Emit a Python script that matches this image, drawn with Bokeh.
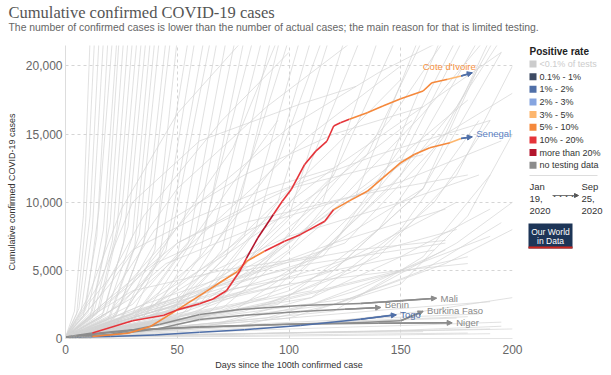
from bokeh.plotting import figure
from bokeh.layouts import column, row
from bokeh.models import Range1d, Label, Arrow, NormalHead, FixedTicker, NumeralTickFormatter, BoxAnnotation, ColumnDataSource
from bokeh.embed import file_html
from bokeh.resources import INLINE

# ---------------- data ----------------
band_labels = ["<0.1% of tests", "0.1% - 1%", "1% - 2%", "2% - 3%", "3% - 5%",
               "5% - 10%", "10% - 20%", "more than 20%", "no testing data"]
band_colors = ["#cccccc", "#3d4a63", "#4f6fa8", "#86a5e0", "#fdb66d",
               "#f5883b", "#e5343a", "#b3152c", "#8c8c8c"]
band_color = dict(zip(band_labels, band_colors))

x_ticks = [0, 50, 100, 150, 200]
y_ticks = [0, 5000, 10000, 15000, 20000]

# background (all other countries)
bg_days = [
    [0, 4, 8, 11], [0, 5, 9, 13], [0, 6, 11, 15], [0, 7, 12, 17], [0, 8, 14, 19],
    [0, 9, 15, 21], [0, 10, 17, 23], [0, 11, 18, 24], [0, 12, 20, 26], [0, 12, 21, 28],
    [0, 14, 23, 30], [0, 15, 25, 32], [0, 16, 26, 34], [0, 17, 28, 36], [0, 18, 30, 38],
    [0, 19, 31, 40], [0, 20, 33, 42], [0, 22, 35, 45], [0, 23, 37, 47], [0, 25, 40, 50],
    [0, 20, 40, 55], [0, 25, 42, 58], [0, 22, 45, 62], [0, 30, 48, 65], [0, 28, 50, 68],
    [0, 30, 55, 72], [0, 35, 58, 76], [0, 32, 60, 80], [0, 40, 62, 84], [0, 38, 65, 88],
    [0, 45, 70, 92], [0, 40, 72, 96], [0, 50, 75, 100], [0, 45, 80, 105], [0, 55, 85, 110],
    [0, 60, 95, 118], [0, 50, 100, 125], [0, 70, 105, 132], [0, 65, 115, 140], [0, 80, 120, 148],
    [0, 70, 130, 158], [0, 90, 140, 168], [0, 100, 150, 185], [0, 110, 160, 195],
    [0, 15, 30, 60, 105, 130], [0, 20, 40, 80, 120, 160], [0, 25, 50, 90, 140, 190],
    [0, 20, 45, 90, 150, 195], [0, 30, 60, 100, 150, 185], [0, 35, 70, 120, 170],
    [0, 40, 80, 130, 175], [0, 30, 70, 120, 165], [0, 40, 90, 140, 180], [0, 50, 100, 150, 190],
    [0, 30, 60, 95], [0, 40, 80, 120], [0, 50, 90, 130, 160], [0, 60, 100, 140, 175],
    [0, 70, 110, 150, 190], [0, 80, 120, 160, 195], [0, 60, 110, 150], [0, 90, 130, 170],
    [0, 50, 100, 150, 190], [0, 40, 90, 140, 185], [0, 30, 80, 130, 180], [0, 60, 120, 175],
    [0, 50, 100, 160, 195], [0, 70, 130, 190], [0, 80, 150, 195], [0, 100, 160, 200],
    [0, 40, 100, 150, 180], [0, 35, 80, 130, 170], [0, 120, 170, 200], [0, 130, 175, 200],
    [0, 100, 150, 180, 200], [0, 120, 160, 190], [0, 90, 140, 175, 200], [0, 110, 150, 185],
    [0, 80, 130, 165, 190], [0, 60, 120, 160, 185],
    [0, 60, 120, 180], [0, 50, 110, 170, 200], [0, 80, 140, 190], [0, 40, 100, 160],
    [0, 30, 70, 110, 150], [0, 25, 60, 100, 140, 170], [0, 20, 50, 90, 130],
    [0, 40, 80, 120, 160, 195], [0, 45, 90, 130, 170, 200], [0, 60, 100, 140, 180],
    [0, 35, 75, 115, 155], [0, 50, 85, 120, 150], [0, 15, 35, 70, 100], [0, 10, 25, 50, 80],
    [0, 20, 45, 75, 95], [0, 30, 65, 95, 115], [0, 55, 100, 135, 160], [0, 75, 120, 150, 175],
    [0, 95, 140, 170, 190], [0, 65, 110, 145, 170], [0, 10, 30, 60, 90, 120],
    [0, 15, 40, 80, 130, 180], [0, 20, 50, 100, 160], [0, 10, 30, 70, 110], [0, 20, 60, 110, 170],
    [0, 105, 145, 175, 195], [0, 115, 150, 178], [0, 85, 125, 160, 188], [0, 125, 165, 192],
]
bg_cases = [
    [100, 2000, 9000, 22000], [100, 1800, 8500, 22000], [100, 2200, 9000, 22000], [100, 2000, 8000, 22000], [100, 1700, 7500, 22000],
    [100, 2100, 9500, 22000], [100, 1900, 8000, 22000], [100, 1600, 7000, 22000], [100, 2000, 8500, 22000], [100, 1500, 7200, 22000],
    [100, 1800, 8000, 22000], [100, 2000, 9000, 22000], [100, 1500, 7000, 22000], [100, 1900, 8200, 22000], [100, 1700, 7500, 22000],
    [100, 1400, 6800, 22000], [100, 1600, 7600, 22000], [100, 1500, 7000, 22000], [100, 1800, 8000, 22000], [100, 1400, 6500, 22000],
    [100, 1200, 7000, 22000], [100, 1500, 6000, 22000], [100, 900, 6500, 22000], [100, 1800, 8000, 22000], [100, 1000, 6000, 22000],
    [100, 1300, 7000, 22000], [100, 1600, 7500, 22000], [100, 1100, 6000, 22000], [100, 2000, 8000, 22000], [100, 1200, 7000, 22000],
    [100, 1500, 6500, 22000], [100, 1000, 6000, 22000], [100, 2500, 9000, 22000], [100, 1300, 7500, 22000], [100, 2000, 8000, 22000],
    [100, 2500, 10000, 22000], [100, 1500, 9000, 22000], [100, 3000, 11000, 22000], [100, 2000, 10000, 22000], [100, 3500, 12000, 22000],
    [100, 2200, 10500, 22000], [100, 3000, 11000, 22000], [100, 4000, 12000, 22000], [100, 3500, 11000, 21000],
    [100, 4000, 10000, 14500, 17200, 18500], [100, 3000, 8000, 12000, 15000, 17000], [100, 2500, 7000, 10500, 13500, 16000],
    [100, 2000, 5500, 8500, 11500, 14500], [100, 1500, 4500, 7500, 10000, 12000], [100, 1500, 4000, 7000, 9500],
    [100, 1200, 3500, 6000, 8000], [100, 1500, 3500, 5000, 6500], [100, 1000, 2500, 4500, 6000], [100, 1200, 3000, 5000, 7500],
    [100, 2500, 8000, 16000], [100, 2000, 5500, 12000], [100, 1500, 4000, 8000, 11000], [100, 1500, 3500, 7000, 10000],
    [100, 1200, 3000, 6000, 9500], [100, 1000, 2500, 5000, 8500], [100, 800, 2500, 5000], [100, 1500, 3500, 6500],
    [100, 800, 1500, 2200, 2700], [100, 600, 1100, 1500, 1800], [100, 500, 900, 1300, 1600], [100, 700, 1200, 1500],
    [100, 400, 700, 1000, 1200], [100, 300, 500, 700], [100, 350, 600, 900], [100, 900, 2000, 3000],
    [100, 2000, 4000, 5000, 5500], [100, 2500, 5000, 6500, 7200], [100, 2500, 5500, 8000], [100, 3000, 7000, 10000],
    [100, 1500, 4000, 9000, 15000], [100, 2000, 6000, 12000], [100, 2500, 6000, 12000, 20000], [100, 3000, 8000, 16000],
    [100, 2000, 5000, 10000, 16000], [100, 1500, 5000, 11000, 20000],
    [100, 200, 300, 400], [100, 250, 450, 600, 700], [100, 150, 250, 350], [100, 300, 400, 500],
    [100, 3000, 9000, 15000, 20000], [100, 3500, 10000, 15500, 19500, 22000], [100, 4000, 11000, 17000, 22000],
    [100, 2500, 7500, 12500, 17000, 21000], [100, 2000, 6000, 10500, 15000, 18000], [100, 2500, 7000, 12000, 17500],
    [100, 2500, 6500, 11000, 16000], [100, 3000, 8500, 14000, 19000], [100, 3000, 9000, 16000, 21000], [100, 3000, 9500, 16500, 22000],
    [100, 2000, 7000, 14000, 22000], [100, 1800, 6500, 13000, 22000], [100, 1500, 6500, 13500, 22000], [100, 2000, 7000, 14000, 22000],
    [100, 2500, 8000, 15000, 22000], [100, 3500, 9500, 16000, 22000], [100, 2500, 6500, 9000, 11000, 12500],
    [100, 2000, 5500, 8500, 10500, 12000], [100, 3000, 7000, 11000, 13500], [100, 1500, 3500, 5000, 6000], [100, 1500, 3500, 5500, 7000],
    [100, 5000, 11000, 17000, 22000], [100, 6000, 13000, 22000], [100, 5000, 10500, 16500, 22000], [100, 7000, 14000, 22000],
]

# highlighted countries: days since 100th case, cumulative cases, positive-rate band at each point
countries = ["Cote d'Ivoire", "Senegal", "Mali", "Benin", "Togo", "Burkina Faso", "Niger"]

civ_days = [0, 12, 30, 44, 50, 60, 66, 72, 78, 81, 86, 89, 93, 97, 101, 107, 112, 117, 120, 123, 127,
            135, 142, 150, 160, 164, 171, 177, 182]
civ_cases = [100, 400, 1300, 1700, 2100, 2550, 2900, 3500, 4950, 5900, 7370, 8110, 9100, 10070, 10930, 12770,
             13750, 14490, 15590, 15830, 16080, 16570, 17060, 17600, 18160, 18770, 19020, 19260, 19500]
civ_band = ["no testing data", "no testing data"] + ["10% - 20%"] * 8 + ["more than 20%"] * 3 + \
           ["10% - 20%"] * 8 + ["5% - 10%"] * 6 + ["3% - 5%", "1% - 2%"]

sen_days = [0, 12, 28, 38, 50, 63, 70, 77, 81, 89, 98, 105, 116, 120, 127, 135, 142, 150, 156, 163,
            172, 177, 182]
sen_cases = [100, 150, 390, 880, 2100, 3460, 4200, 4930, 5660, 6400, 7130, 7620, 8600, 9460, 10100,
             10800, 11790, 12900, 13500, 14000, 14360, 14680, 14800]
sen_band = ["no testing data", "no testing data"] + ["5% - 10%"] * 8 + ["10% - 20%"] * 4 + \
           ["5% - 10%"] * 7 + ["3% - 5%", "1% - 2%"]

mli_days = [0, 20, 42, 60, 78, 105, 132, 166]
mli_cases = [100, 300, 1030, 1760, 2130, 2430, 2570, 2960]
ben_days = [0, 20, 42, 60, 80, 105, 125, 141]
ben_cases = [100, 250, 740, 1400, 1700, 1990, 2150, 2280]
tgo_days = [0, 20, 40, 60, 80, 105, 132, 148]
tgo_cases = [100, 150, 250, 450, 650, 960, 1420, 1740]
bfa_days = [0, 15, 30, 60, 100, 130, 150, 160]
bfa_cases = [100, 350, 600, 850, 1050, 1150, 1300, 2000]
ner_days = [0, 15, 30, 60, 100, 140, 173]
ner_cases = [100, 400, 650, 850, 1050, 1110, 1150]

# ---------------- layout ----------------
TOP_H = 40              # height of the title strip
MAIN_W, MAIN_H = 524, 335
PANEL_W = 611 - MAIN_W
FL, FT, FW, FH = 65, 5, 447, 293
XMAX, YMAX = 200, 21500
FONT = "Liberation Sans"


def text_fig(w, h, x0, y0, top=0, bottom=0):
    # frame mapped so that data coordinates equal page pixels
    f = figure(width=w, height=h, output_backend="svg", toolbar_location=None,
               x_range=Range1d(x0, x0 + w), y_range=Range1d(y0 + h - bottom, y0 + top),
               x_axis_location=None, y_axis_location=None,
               min_border_left=0, min_border_right=0, min_border_top=top, min_border_bottom=bottom)
    f.grid.visible = False
    f.outline_line_color = None
    return f


def lab(f, px, py, text, size="9px", color="#333333", align="left", font=FONT,
        style="normal", baseline="middle"):
    f.add_layout(Label(x=px, y=py, text=text, text_font=font, text_font_size=size,
                       text_color=color, text_align=align, text_baseline=baseline,
                       text_font_style=style))


def box(f, x0, y0, x1, y1, color):
    f.add_layout(BoxAnnotation(left=x0, right=x1, top=y0, bottom=y1,
                               fill_color=color, fill_alpha=1, line_color=None))


# title strip (page coordinates)
t = text_fig(611, TOP_H, 0, 0)
lab(t, 8, 12, "Cumulative confirmed COVID-19 cases", size="16.5px", color="#555555", font="Liberation Serif")
lab(t, 8, 27, "The number of confirmed cases is lower than the number of actual cases; the main reason for that is limited testing.",
    size="10.4px", color="#666666")

# main chart
p = figure(width=MAIN_W, height=MAIN_H, output_backend="svg", toolbar_location=None,
           x_range=Range1d(0, XMAX), y_range=Range1d(0, YMAX),
           min_border_left=FL, min_border_right=MAIN_W - FL - FW,
           min_border_top=FT, min_border_bottom=MAIN_H - FT - FH)
p.outline_line_color = None
for ax in (p.xaxis, p.yaxis):
    ax.major_tick_line_color = None
    ax.minor_tick_line_color = None
    ax.major_tick_out = 0
    ax.major_tick_in = 0
    ax.minor_tick_out = 0
    ax.major_label_text_font = FONT
    ax.major_label_text_font_size = "12px"
    ax.major_label_text_color = "#666666"
    ax.axis_label_text_font = FONT
    ax.axis_label_text_font_size = "9px"
    ax.axis_label_text_font_style = "normal"
    ax.axis_label_text_color = "#333333"
p.yaxis.axis_label = "Cumulative confirmed COVID-19 cases"
p.xaxis.axis_label = "Days since the 100th confirmed case"
p.yaxis.axis_label_standoff = 6
p.xaxis.axis_label_standoff = 3
p.yaxis.axis_line_color = "#dddddd"
p.xaxis.axis_line_color = "#e4e4e4"
p.yaxis.ticker = FixedTicker(ticks=y_ticks)
p.xaxis.ticker = FixedTicker(ticks=x_ticks)
p.yaxis.formatter = NumeralTickFormatter(format="0,0")
p.yaxis.major_label_standoff = 3
p.xaxis.major_label_standoff = 6
p.xgrid.ticker = FixedTicker(ticks=x_ticks[1:])
p.ygrid.ticker = FixedTicker(ticks=y_ticks[1:])
for gr in (p.xgrid, p.ygrid):
    gr.grid_line_color = "#d5d5d5"
    gr.grid_line_dash = "3 3"
    gr.grid_line_width = 1

p.multi_line(xs=bg_days, ys=bg_cases, line_color="#d4d4d4", line_width=0.7)


def draw_country(days, cases, bands, width=1.6):
    xs, ys, cs = [], [], []
    for i in range(1, len(days)):
        xs.append([days[i - 1], days[i]])
        ys.append([cases[i - 1], cases[i]])
        cs.append(band_color[bands[i]])
    p.multi_line(xs="xs", ys="ys", line_color="cs", line_width=width,
                 source=ColumnDataSource(dict(xs=xs, ys=ys, cs=cs)))
    c = band_color[bands[-1]]
    p.add_layout(Arrow(end=NormalHead(size=5, fill_color=c, line_color=c, line_width=1),
                       x_start=days[-2], y_start=cases[-2], x_end=days[-1], y_end=cases[-1],
                       line_color=c, line_width=width))


for d, c in [(mli_days, mli_cases), (ben_days, ben_cases), (bfa_days, bfa_cases), (ner_days, ner_cases)]:
    draw_country(d, c, ["no testing data"] * len(d), 1.5)
draw_country(tgo_days, tgo_cases, ["no testing data"] + ["1% - 2%"] * (len(tgo_days) - 1), 1.5)
draw_country(sen_days, sen_cases, sen_band)
draw_country(civ_days, civ_cases, civ_band)


def end_label(days, cases, text, color, dx=4, dy=0, align="left"):
    p.add_layout(Label(x=days[-1], y=cases[-1], text=text, x_offset=dx, y_offset=dy,
                       text_font=FONT, text_font_size="9.5px", text_color=color,
                       text_align=align, text_baseline="middle"))


end_label(civ_days, civ_cases, countries[0], "#f5913f", dx=-23, dy=6, align="center")
end_label(sen_days, sen_cases, countries[1], "#5b7fc4", dy=3)
end_label(mli_days, mli_cases, countries[2], "#888888")
end_label(ben_days, ben_cases, countries[3], "#888888", dy=3)
end_label(tgo_days, tgo_cases, countries[4], "#4f6fa8")
end_label(bfa_days, bfa_cases, countries[5], "#888888", dy=1)
end_label(ner_days, ner_cases, countries[6], "#888888")
p.add_layout(Label(x=0, y=0, x_offset=3, y_offset=2, text="100 cases", text_font=FONT,
                   text_font_size="5px", text_color="#aaaaaa", text_baseline="middle"))

# legend panel (page coordinates; same top/bottom borders as the main chart)
g = text_fig(PANEL_W, MAIN_H, MAIN_W, TOP_H, top=FT, bottom=MAIN_H - FT - FH)
lab(g, 529, 51, "Positive rate", size="10px", color="#222222", style="bold")
for i, (txt, c) in enumerate(zip(band_labels, band_colors)):
    yy = 63.5 + i * 12.65
    box(g, 529, yy - 3.5, 536, yy + 3.5, c)
    lab(g, 539, yy, txt, size="9px", color="#cccccc" if i == 0 else "#333333")

box(g, 529, 174.5, 597, 175.5, "#dddddd")
for k, txt in enumerate(["Jan", "19,", "2020"]):
    lab(g, 529, 186 + k * 12, txt, size="9.5px")
for k, txt in enumerate(["Sep", "25,", "2020"]):
    lab(g, 581, 186 + k * 12, txt, size="9.5px")
g.add_layout(Arrow(end=NormalHead(size=4, fill_color="#555555", line_color="#555555"),
                   x_start=552, y_start=195, x_end=578, y_end=195,
                   line_color="#777777", line_width=1))
for k in range(4):
    lab(g, 554 + k * 6, 195, "•", size="6px", color="#555555", align="center")

box(g, 528, 223, 572, 248, "#1d3557")
box(g, 528, 246, 572, 248, "#ce261e")
lab(g, 550, 231, "Our World", size="8.5px", color="white", align="center")
lab(g, 550, 240, "in Data", size="8.5px", color="white", align="center")

layout = column(t, row(p, g))
open("out.html", "w").write(file_html(layout, INLINE))
